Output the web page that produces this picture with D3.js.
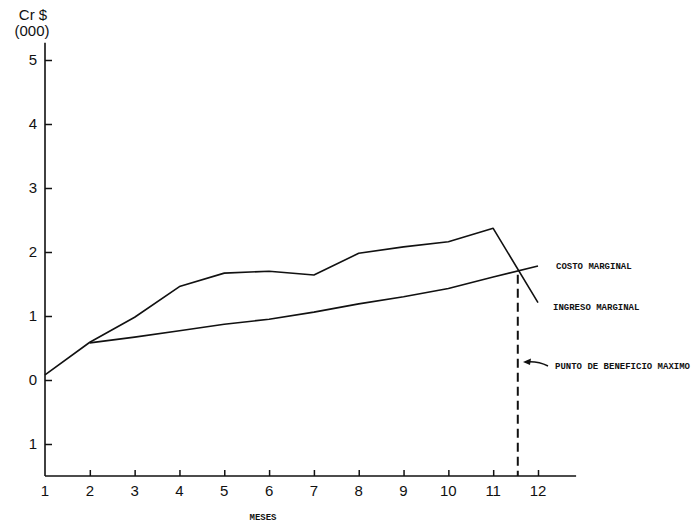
<!DOCTYPE html>
<html>
<head>
<meta charset="utf-8">
<script src="https://cdn.jsdelivr.net/npm/d3@7"></script>
<style>
  html, body { margin: 0; padding: 0; background: #fff; }
  svg { display: block; }
</style>
</head>
<body>
<svg id="chart" width="700" height="529"></svg>
<script>
// ---- data ----
const months = [1, 2, 3, 4, 5, 6, 7, 8, 9, 10, 11, 12];
const xTickLabels = ["1", "2", "3", "4", "5", "6", "7", "8", "9", "10", "11", "12"];
const ingresoMarginal = [0.08, 0.59, 0.98, 1.46, 1.67, 1.70, 1.64, 1.98, 2.08, 2.16, 2.37, 1.21];
const costoMarginal = [null, 0.58, 0.67, 0.77, 0.87, 0.95, 1.06, 1.19, 1.30, 1.43, 1.61, 1.78];
const yTickValues = [-1, 0, 1, 2, 3, 4, 5];
const yTickLabels = ["1", "0", "1", "2", "3", "4", "5"];
const yTitle = ["Cr $", "(000)"];
const xTitle = "MESES";
const labelCosto = "COSTO MARGINAL";
const labelIngreso = "INGRESO MARGINAL";
const labelPunto = "PUNTO DE BENEFICIO MAXIMO";

// ---- scales ----
const svg = d3.select("#chart");
const x = d3.scaleLinear().domain([1, 12]).range([45, 538]);
const y = d3.scaleLinear().domain([0, 5]).range([380, 60]);
const xMax = 12.85, yMin = -1.5, yMax = 5.27;

const tickFont = "'Liberation Sans', Arial, sans-serif";
const typeFont = "'Liberation Mono', 'DejaVu Sans Mono', monospace";

// ---- axes ----
const yAxis = d3.axisRight(y).tickValues(yTickValues)
  .tickFormat((d, i) => yTickLabels[i]).tickSize(7).tickPadding(0);
const gy = svg.append("g").attr("transform", `translate(${x(1)},0)`).call(yAxis);
gy.select(".domain").remove();
gy.selectAll("text").attr("x", -8).attr("text-anchor", "end")
  .attr("font-family", tickFont).attr("font-size", 15).attr("fill", "#111");
gy.selectAll("line").attr("stroke", "#111").attr("stroke-width", 1.5);
svg.append("line")
  .attr("x1", x(1)).attr("x2", x(1))
  .attr("y1", y(yMax)).attr("y2", y(yMin))
  .attr("stroke", "#111").attr("stroke-width", 1.6);

const xAxis = d3.axisTop(x).tickValues(months.slice(1))
  .tickFormat("").tickSize(6);
const gx = svg.append("g").attr("transform", `translate(0,${y(yMin)})`).call(xAxis);
gx.select(".domain").remove();
gx.selectAll("line").attr("stroke", "#111").attr("stroke-width", 1.5);
svg.append("line")
  .attr("x1", x(1)).attr("x2", x(xMax))
  .attr("y1", y(yMin)).attr("y2", y(yMin))
  .attr("stroke", "#111").attr("stroke-width", 1.6);
svg.append("g").selectAll("text").data(months).join("text")
  .attr("x", d => x(d)).attr("y", y(yMin) + 20)
  .attr("text-anchor", "middle")
  .attr("font-family", tickFont).attr("font-size", 15).attr("fill", "#111")
  .text((d, i) => xTickLabels[i]);

// titles
svg.append("g").selectAll("text").data(yTitle).join("text")
  .attr("x", (d, i) => i === 0 ? 33 : 32)
  .attr("y", (d, i) => 20 + i * 16)
  .attr("text-anchor", "middle")
  .attr("font-family", tickFont).attr("font-size", 15).attr("fill", "#111")
  .text(d => d);
svg.append("text").attr("x", 263).attr("y", 520).attr("text-anchor", "middle")
  .attr("font-family", typeFont).attr("font-weight", "bold").attr("font-size", 9)
  .attr("fill", "#111").text(xTitle);

// ---- lines ----
const line = d3.line()
  .defined(d => d[1] !== null)
  .x(d => x(d[0])).y(d => y(d[1]));
svg.append("path").datum(months.map((m, i) => [m, ingresoMarginal[i]]))
  .attr("d", line).attr("fill", "none").attr("stroke", "#111")
  .attr("stroke-width", 1.6).attr("stroke-linejoin", "round");
svg.append("path").datum(months.map((m, i) => [m, costoMarginal[i]]))
  .attr("d", line).attr("fill", "none").attr("stroke", "#111")
  .attr("stroke-width", 1.6).attr("stroke-linejoin", "round");

// intersection of last segments (max profit point)
const n = months.length - 1;
const d0 = ingresoMarginal[n - 1] - costoMarginal[n - 1];
const d1 = ingresoMarginal[n] - costoMarginal[n];
const t = d0 / (d0 - d1);
const mStar = months[n - 1] + t * (months[n] - months[n - 1]);
const vStar = costoMarginal[n - 1] + t * (costoMarginal[n] - costoMarginal[n - 1]);
svg.append("line")
  .attr("x1", x(mStar) - 1).attr("x2", x(mStar) - 1)
  .attr("y1", y(vStar) + 4).attr("y2", y(yMin))
  .attr("stroke", "#111").attr("stroke-width", 2)
  .attr("stroke-dasharray", "9,5");

// ---- labels ----
const lab = (tx, lx, ly) => svg.append("text").attr("x", lx).attr("y", ly)
  .attr("font-family", typeFont).attr("font-weight", "bold").attr("font-size", 9)
  .attr("fill", "#111").text(tx);
lab(labelCosto, 556, 269);
lab(labelIngreso, 553, 310);
lab(labelPunto, 555, 369);

// arrow
svg.append("path")
  .attr("d", "M548,366 Q538,361 526,362")
  .attr("fill", "none").attr("stroke", "#111").attr("stroke-width", 1.5);
svg.append("path")
  .attr("d", "M523,362 L531,358.5 L530,365 Z").attr("fill", "#111");
</script>
</body>
</html>
